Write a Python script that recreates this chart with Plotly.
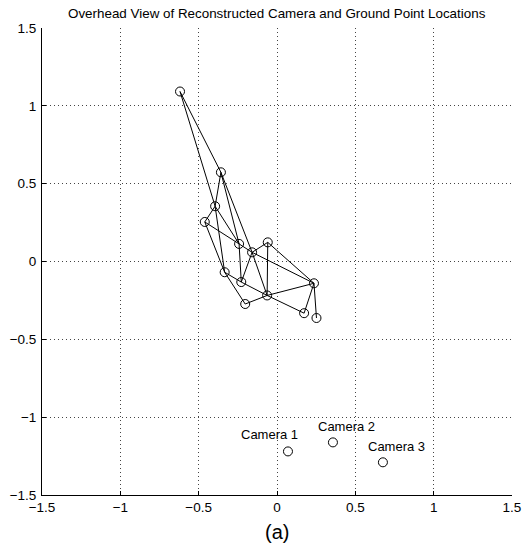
import plotly.graph_objects as go

# Ground points (reconstructed)
pt_x = [-0.619, -0.358, -0.395, -0.461, -0.242, -0.059, -0.159, -0.334, -0.228, -0.203, -0.063, 0.236, 0.173, 0.252]
pt_y = [1.092, 0.573, 0.355, 0.254, 0.113, 0.123, 0.059, -0.069, -0.132, -0.273, -0.218, -0.140, -0.332, -0.363]

# Edges between ground points (indices into pt_x / pt_y)
edges = [(0, 1), (0, 2), (1, 2), (1, 4), (1, 6), (2, 3), (2, 4), (2, 7),
         (3, 4), (3, 7), (4, 6), (4, 8), (5, 6), (5, 10), (5, 11),
         (6, 8), (6, 10), (6, 11), (7, 8), (7, 9), (8, 10), (9, 10),
         (10, 11), (10, 12), (11, 12), (11, 13)]

# Cameras
cam_names = ["Camera 1", "Camera 2", "Camera 3"]
cam_x = [0.070, 0.357, 0.676]
cam_y = [-1.220, -1.162, -1.290]

tick_vals = [-1.5, -1, -0.5, 0, 0.5, 1, 1.5]
tick_text = ["\u22121.5", "\u22121", "\u22120.5", "0", "0.5", "1", "1.5"]

FONT = "Liberation Sans, Arial, Helvetica, sans-serif"

ex, ey = [], []
for a, b in edges:
    ex += [pt_x[a], pt_x[b], None]
    ey += [pt_y[a], pt_y[b], None]

fig = go.Figure()
fig.add_trace(go.Scatter(x=ex, y=ey, mode="lines",
                         line=dict(color="black", width=1), hoverinfo="skip"))
fig.add_trace(go.Scatter(x=pt_x, y=pt_y, mode="markers",
                         marker=dict(symbol="circle-open", size=9, color="black",
                                     line=dict(width=1, color="black"))))
fig.add_trace(go.Scatter(x=cam_x, y=cam_y, mode="markers",
                         marker=dict(symbol="circle-open", size=9, color="black",
                                     line=dict(width=1, color="black"))))

shifts = [(-18, 17), (14, 16), (14, 16)]
for n, x, y, (dx, dy) in zip(cam_names, cam_x, cam_y, shifts):
    fig.add_annotation(x=x, y=y, xref="x", yref="y", text=n, showarrow=False,
                       xshift=dx, yshift=dy, font=dict(family=FONT, size=13, color="black"))

fig.add_annotation(x=0.5, y=1, xref="paper", yref="paper", yshift=15, yanchor="middle",
                   text="Overhead View of Reconstructed Camera and Ground Point Locations",
                   showarrow=False, font=dict(family=FONT, size=13.4, color="black"))
fig.add_annotation(x=0.5, y=0, xref="paper", yref="paper", yshift=-37, yanchor="middle",
                   text="(a)", showarrow=False, font=dict(family=FONT, size=20, color="black"))

axis_common = dict(range=[-1.5, 1.5], tickvals=tick_vals, ticktext=tick_text,
                   showline=True, linecolor="black", linewidth=1,
                   ticks="inside", ticklen=4, tickcolor="black", tickwidth=1,
                   showgrid=True, gridcolor="#444", griddash="1px,3px", gridwidth=1,
                   zeroline=False, tickfont=dict(family=FONT, size=13.5, color="black"),
                   fixedrange=True, automargin=False)

fig.update_layout(
    width=526, height=550,
    margin=dict(l=42, r=14, t=28, b=55),
    paper_bgcolor="white", plot_bgcolor="white",
    showlegend=False,
    xaxis=dict(**axis_common, ticklabelstandoff=0),
    yaxis=dict(**axis_common, ticklabelstandoff=2),
)

fig.write_html("out.html")
